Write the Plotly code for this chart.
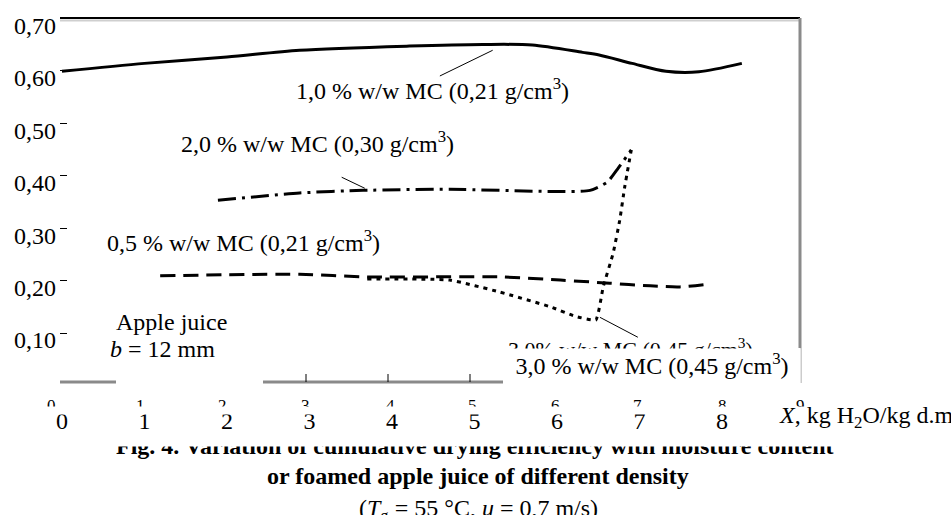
import plotly.graph_objects as go

# ---------------- data ----------------
x_mc10 = [0, 1, 2, 2.88, 4.21, 5.1, 5.7, 6.31, 6.51, 6.91, 7.32, 7.72, 8.24]
y_mc10 = [0.599, 0.614, 0.626, 0.639, 0.647, 0.650, 0.649, 0.635, 0.630, 0.614, 0.599, 0.598, 0.614]

x_mc20 = [1.89, 2.88, 3.65, 4.70, 5.92, 6.40, 6.61, 6.74, 6.90]
y_mc20 = [0.353, 0.367, 0.372, 0.374, 0.370, 0.372, 0.388, 0.414, 0.449]

x_mc05 = [1.19, 2.88, 3.70, 5.31, 6.04, 6.64, 7.13, 7.49, 7.82]
y_mc05 = [0.209, 0.212, 0.207, 0.207, 0.201, 0.195, 0.190, 0.188, 0.193]

x_mc30 = [3.70, 4.70, 5.31, 5.92, 6.22, 6.47, 6.56, 6.68, 6.76, 6.82, 6.90]
y_mc30 = [0.203, 0.201, 0.178, 0.150, 0.132, 0.125, 0.188, 0.252, 0.315, 0.378, 0.449]

x_tickvals = [0, 1, 2, 3, 4, 5, 6, 7, 8]
x_ticktext = ["0", "1", "2", "3", "4", "5", "6", "7", "8"]
y_tickvals = [0.10, 0.20, 0.30, 0.40, 0.50, 0.60, 0.70]
y_ticktext = ["0,10", "0,20", "0,30", "0,40", "0,50", "0,60", "0,70"]
ghost_tickvals = [-0.13, 0.95, 1.94, 2.95, 3.98, 4.98, 5.98, 6.98, 8.01, 8.95]
ghost_ticktext = ["0", "1", "2", "3", "4", "5", "6", "7", "8", "9"]

label_mc10 = "1,0 % w/w MC (0,21 g/cm<sup>3</sup>)"
label_mc20 = "2,0 % w/w MC (0,30 g/cm<sup>3</sup>)"
label_mc05 = "0,5 % w/w MC (0,21 g/cm<sup>3</sup>)"
label_mc30 = "3,0 % w/w MC (0,45 g/cm<sup>3</sup>)"
label_mc30_ghost = "3,0% w/w MC (0,45 g/cm<sup>3</sup>)"
caption1 = "Fig. 4. Variation of cumulative drying efficiency with moisture content"
caption2 = "or foamed apple juice of different density"
caption3 = "(<i>T</i><sub>g</sub> = 55 °C, <i>u</i> = 0,7 m/s)"
x_title = "<i>X</i>, kg H<sub>2</sub>O/kg d.m"

# ---------------- layout geometry ----------------
W, H = 951, 515
L, R, T, B = 60, 151, 18, 133
PW, PH = W - L - R, H - T - B
XR = [-0.024, 8.945]
YR = [0.0067, 0.7005]
FONT = "Liberation Serif"


def px(p):
    return (p - L) / PW


def py(p):
    return (T + PH - p) / PH


def xdata_to_paper(v):
    return (v - XR[0]) / (XR[1] - XR[0])


fig = go.Figure()
common = dict(mode="lines", hoverinfo="skip", showlegend=False)
fig.add_trace(go.Scatter(x=x_mc10, y=y_mc10, line=dict(color="black", width=3, shape="spline", smoothing=0.8), **common))
fig.add_trace(go.Scatter(x=x_mc20, y=y_mc20, line=dict(color="black", width=3, dash="18px,6px,3px,6px", shape="spline", smoothing=0.6), **common))
fig.add_trace(go.Scatter(x=x_mc05, y=y_mc05, line=dict(color="black", width=3, dash="15px,8px", shape="spline", smoothing=0.8), **common))
fig.add_trace(go.Scatter(x=x_mc30, y=y_mc30, line=dict(color="black", width=3, dash="4px,5px", shape="spline", smoothing=0.4), **common))

shapes = []
gray = "#8a8a8a"
# frame pieces
shapes.append(dict(type="line", xref="paper", yref="paper", x0=0, x1=1, y0=py(20.5), y1=py(20.5), line=dict(color="#cfcfcf", width=2)))
shapes.append(dict(type="line", xref="paper", yref="paper", x0=0, x1=1, y0=1, y1=1, line=dict(color="black", width=2)))
shapes.append(dict(type="line", xref="paper", yref="paper", x0=px(800), x1=px(800), y0=py(18), y1=py(348), line=dict(color=gray, width=3)))
shapes.append(dict(type="line", xref="paper", yref="paper", x0=px(801), x1=px(801), y0=py(348), y1=py(383), line=dict(color="#999999", width=1)))
shapes.append(dict(type="line", xref="paper", yref="paper", x0=px(60), x1=px(116), y0=py(382), y1=py(382), line=dict(color=gray, width=3)))
shapes.append(dict(type="line", xref="paper", yref="paper", x0=px(263), x1=px(503), y0=py(382), y1=py(382), line=dict(color=gray, width=3)))
for t in [306, 388, 470]:
    shapes.append(dict(type="line", xref="paper", yref="paper", x0=px(t), x1=px(t), y0=py(374), y1=py(382), line=dict(color="black", width=1)))
# leader lines
shapes.append(dict(type="line", xref="x", yref="y", x0=4.58, y0=0.590, x1=5.22, y1=0.639, line=dict(color="black", width=1)))
shapes.append(dict(type="line", xref="x", yref="y", x0=3.39, y0=0.397, x1=3.67, y1=0.376, line=dict(color="black", width=1)))
shapes.append(dict(type="line", xref="x", yref="y", x0=6.52, y0=0.130, x1=6.98, y1=0.092, line=dict(color="black", width=1)))

ann = []
f24 = dict(family=FONT, size=24, color="black")
f24b = dict(family=FONT, size=24, color="black", weight="bold")


def add(text, x, y, xanchor="center", font=f24, **kw):
    ann.append(dict(text=text, xref="paper", yref="paper", x=px(x), y=py(y), xanchor=xanchor,
                    yanchor="middle", showarrow=False, font=font, **kw))


add(label_mc10, 432, 89)
add(label_mc20, 317, 142)
add(label_mc05, 243, 241)
add("Apple juice", 114, 322, xanchor="left")
add("<i>b</i> = 12 mm", 108, 349, xanchor="left")
add(label_mc30_ghost, 630, 348, font=dict(family=FONT, size=22, color="black"))
ann.append(dict(text=label_mc30, xref="paper", yref="paper", x=px(503), y=py(348), xanchor="left", yanchor="top",
                width=296, height=36, bgcolor="white", borderpad=0, showarrow=False, font=f24,
                align="center", valign="top"))
# ghost row of tick labels (upper halves visible)
for v, t in zip(ghost_tickvals, ghost_ticktext):
    ann.append(dict(text=t, xref="paper", yref="paper", x=xdata_to_paper(v), y=py(405), xanchor="center",
                    yanchor="middle", showarrow=False, font=dict(family=FONT, size=17, color="black")))
ann.append(dict(text=" ", xref="paper", yref="paper", x=px(20), y=py(405.5), xanchor="left", yanchor="top",
                width=820, height=7, bgcolor="white", borderpad=0, showarrow=False, font=dict(size=4)))
add(x_title, 777, 417, xanchor="left")
add(caption1, 475, 446, font=f24b)
ann.append(dict(text=" ", xref="paper", yref="paper", x=px(60), y=py(431), xanchor="left", yanchor="top",
                width=800, height=14, bgcolor="white", borderpad=0, showarrow=False, font=dict(size=4)))
add(caption2, 478, 476, font=f24b)
add(caption3, 478, 510)

fig.update_layout(
    width=W, height=H,
    margin=dict(l=L, r=R, t=T, b=B, pad=0),
    paper_bgcolor="white", plot_bgcolor="white",
    font=dict(family=FONT, size=24, color="black"),
    shapes=shapes, annotations=ann,
    xaxis=dict(range=XR, tickvals=x_tickvals, ticktext=x_ticktext, showgrid=False, zeroline=False,
               showline=False, ticks="", ticklabelstandoff=22, tickfont=dict(family=FONT, size=24)),
    yaxis=dict(range=YR, tickvals=y_tickvals, ticktext=y_ticktext, showgrid=False, zeroline=False,
               showline=False, ticks="inside", ticklen=7, tickwidth=1, tickcolor="black",
               ticklabelshift=7, ticklabelstandoff=3, tickfont=dict(family=FONT, size=24)),
)

fig.write_html("out.html", config={"displayModeBar": False},
               post_script="document.body.style.margin='0';document.body.style.overflow='hidden';")
